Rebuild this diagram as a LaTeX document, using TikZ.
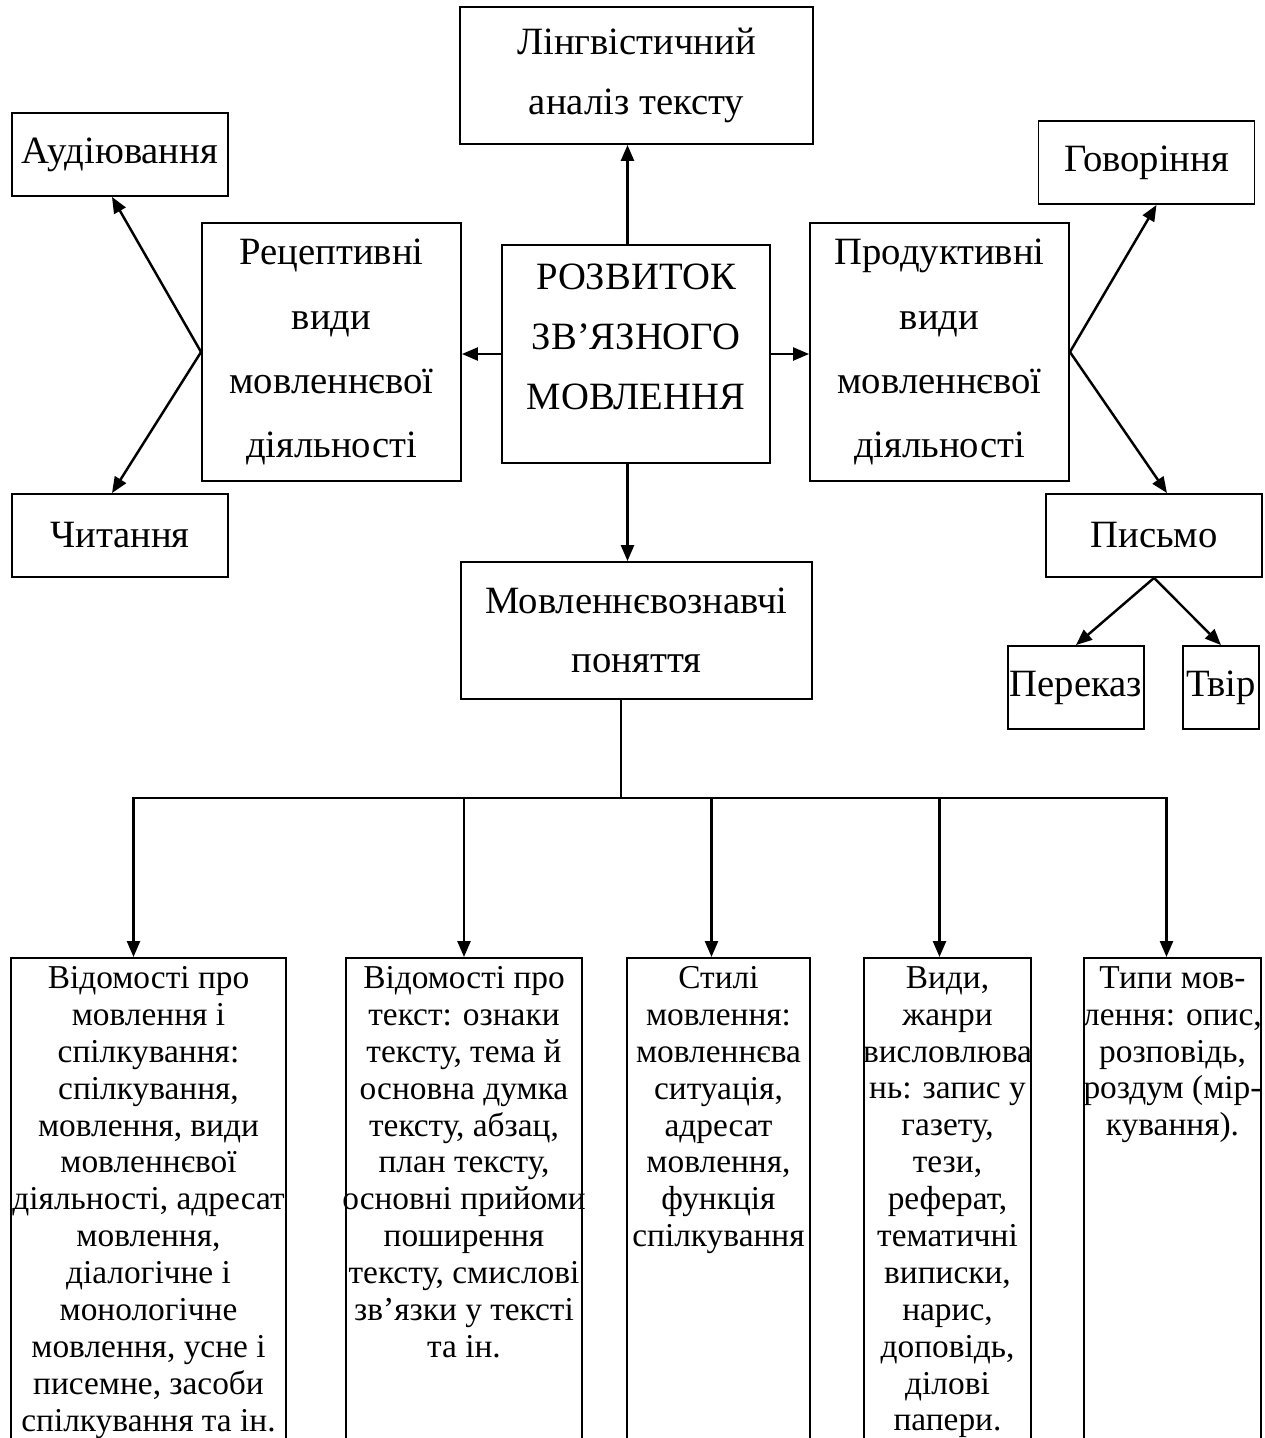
\documentclass[tikz,border=0pt]{standalone}
\usepackage{fontspec}
\setmainfont{Liberation Serif}
\usetikzlibrary{arrows.meta}

\begin{document}
\begin{tikzpicture}[x=0.02cm,y=-0.02cm]

\tikzstyle{box}=[rectangle,draw=black,line width=1.1pt,align=center,inner sep=0pt,font=\fontsize{22}{34}\selectfont]
\tikzstyle{small}=[box,minimum width=4.32cm,minimum height=1.66cm]
\tikzstyle{tall}=[box,minimum width=5.18cm,minimum height=5.16cm,font=\fontsize{22}{36.5}\selectfont]
\tikzstyle{column}=[rectangle,draw=black,line width=1.1pt,anchor=north,minimum height=10.06cm]
\tikzstyle{coltext}=[anchor=north,align=center,inner sep=0pt,font=\fontsize{19}{21}\selectfont]
\tikzstyle{arrow}=[-{Triangle[length=0.32cm,width=0.26cm]},line width=1.4pt]

\useasboundingbox (0,0) rectangle (1265,1438);

%upper part.
\node[box,minimum width=7.06cm,minimum height=2.74cm] (ling) at (636.5,75.5) {Лінгвістичний\\аналіз тексту};
\node[box,minimum width=5.36cm,minimum height=4.36cm] (rozv) at (636,354) {РОЗВИТОК\\ЗВ’ЯЗНОГО\\МОВЛЕННЯ\\[-0.5cm]\mbox{}};
\node[tall] (recep) at (331.5,352) {Рецептивні\\види\\мовленнєвої\\діяльності};
\node[tall] (prod) at (939.5,352) {Продуктивні\\види\\мовленнєвої\\діяльності};
\node[small] (audio) at (120,154.5) {Аудіювання};
\node[small] (chyt) at (120,535.5) {Читання};
\node[small] (govor) at (1146.5,162.5) {Говоріння};
\node[small] (pysmo) at (1154,535.5) {Письмо};
\node[box,minimum width=2.72cm,minimum height=1.66cm] (perekaz) at (1076,687.5) {Переказ};
\node[box,minimum width=1.52cm,minimum height=1.66cm] (tvir) at (1221,687.5) {Твір};
\node[box,minimum width=7.02cm,minimum height=2.74cm] (movzn) at (636.5,630.5) {Мовленнєвознавчі\\поняття};

%columns.
\node[column,minimum width=5.5cm] (col1) at (148.5,957) {};
\node[column,minimum width=4.72cm] (col2) at (464,957) {};
\node[column,minimum width=3.66cm] (col3) at (718.5,957) {};
\node[column,minimum width=3.34cm] (col4) at (947.5,957) {};
\node[column,minimum width=3.54cm] (col5) at (1172.5,957) {};

\node[coltext] (txt1) at ([yshift=-0.18cm]col1.north) {Відомості про\\мовлення і\\спілкування:\\спілкування,\\мовлення, види\\мовленнєвої\\діяльності, адресат\\мовлення,\\діалогічне і\\монологічне\\мовлення, усне і\\писемне, засоби\\спілкування та ін.};
\node[coltext] (txt2) at ([yshift=-0.18cm]col2.north) {Відомості про\\текст: ознаки\\тексту, тема й\\основна думка\\тексту, абзац,\\план тексту,\\основні прийоми\\поширення\\тексту, смислові\\зв’язки у тексті\\та ін.};
\node[coltext] (txt3) at ([yshift=-0.18cm]col3.north) {Стилі\\мовлення:\\мовленнєва\\ситуація,\\адресат\\мовлення,\\функція\\спілкування};
\node[coltext] (txt4) at ([yshift=-0.18cm]col4.north) {Види,\\жанри\\висловлюва\\нь: запис у\\газету,\\тези,\\реферат,\\тематичні\\виписки,\\нарис,\\доповідь,\\ділові\\папери.};
\node[coltext] (txt5) at ([yshift=-0.18cm]col5.north) {Типи мов-\\лення: опис,\\розповідь,\\роздум (мір-\\кування).};

\coordinate (split) at (621,798);

\draw[arrow] ([xshift=-0.17cm]rozv.north) -- ([xshift=-0.17cm]rozv.north |- ling.south);
\draw[arrow] (rozv.west) -- (rozv.west -| recep.east);
\draw[arrow] (rozv.east) -- (rozv.east -| prod.west);
\draw[arrow] ([xshift=-0.17cm]rozv.south) -- ([xshift=-0.17cm]rozv.south |- movzn.north);
\draw[arrow] (recep.west) -- ([xshift=-0.16cm]audio.south);
\draw[arrow] (recep.west) -- ([xshift=-0.16cm]chyt.north);
\draw[arrow] (prod.east) -- ([xshift=0.2cm]govor.south);
\draw[arrow] (prod.east) -- ([xshift=0.26cm]pysmo.north);
\draw[arrow] (pysmo.south) -- (perekaz.north);
\draw[arrow] (pysmo.south) -- (tvir.north);

\draw[line width=0.8pt] (movzn.south -| split) -- (split);
\draw[arrow] (split) -| ([xshift=-0.3cm]col1.north);
\draw[arrow] (split) -| (col2.north);
\draw[arrow] (split) -| ([xshift=-0.14cm]col3.north);
\draw[arrow] (split) -| ([xshift=-0.16cm]col4.north);
\draw[arrow] (split) -| ([xshift=-0.12cm]col5.north);

\end{tikzpicture}
\end{document}
